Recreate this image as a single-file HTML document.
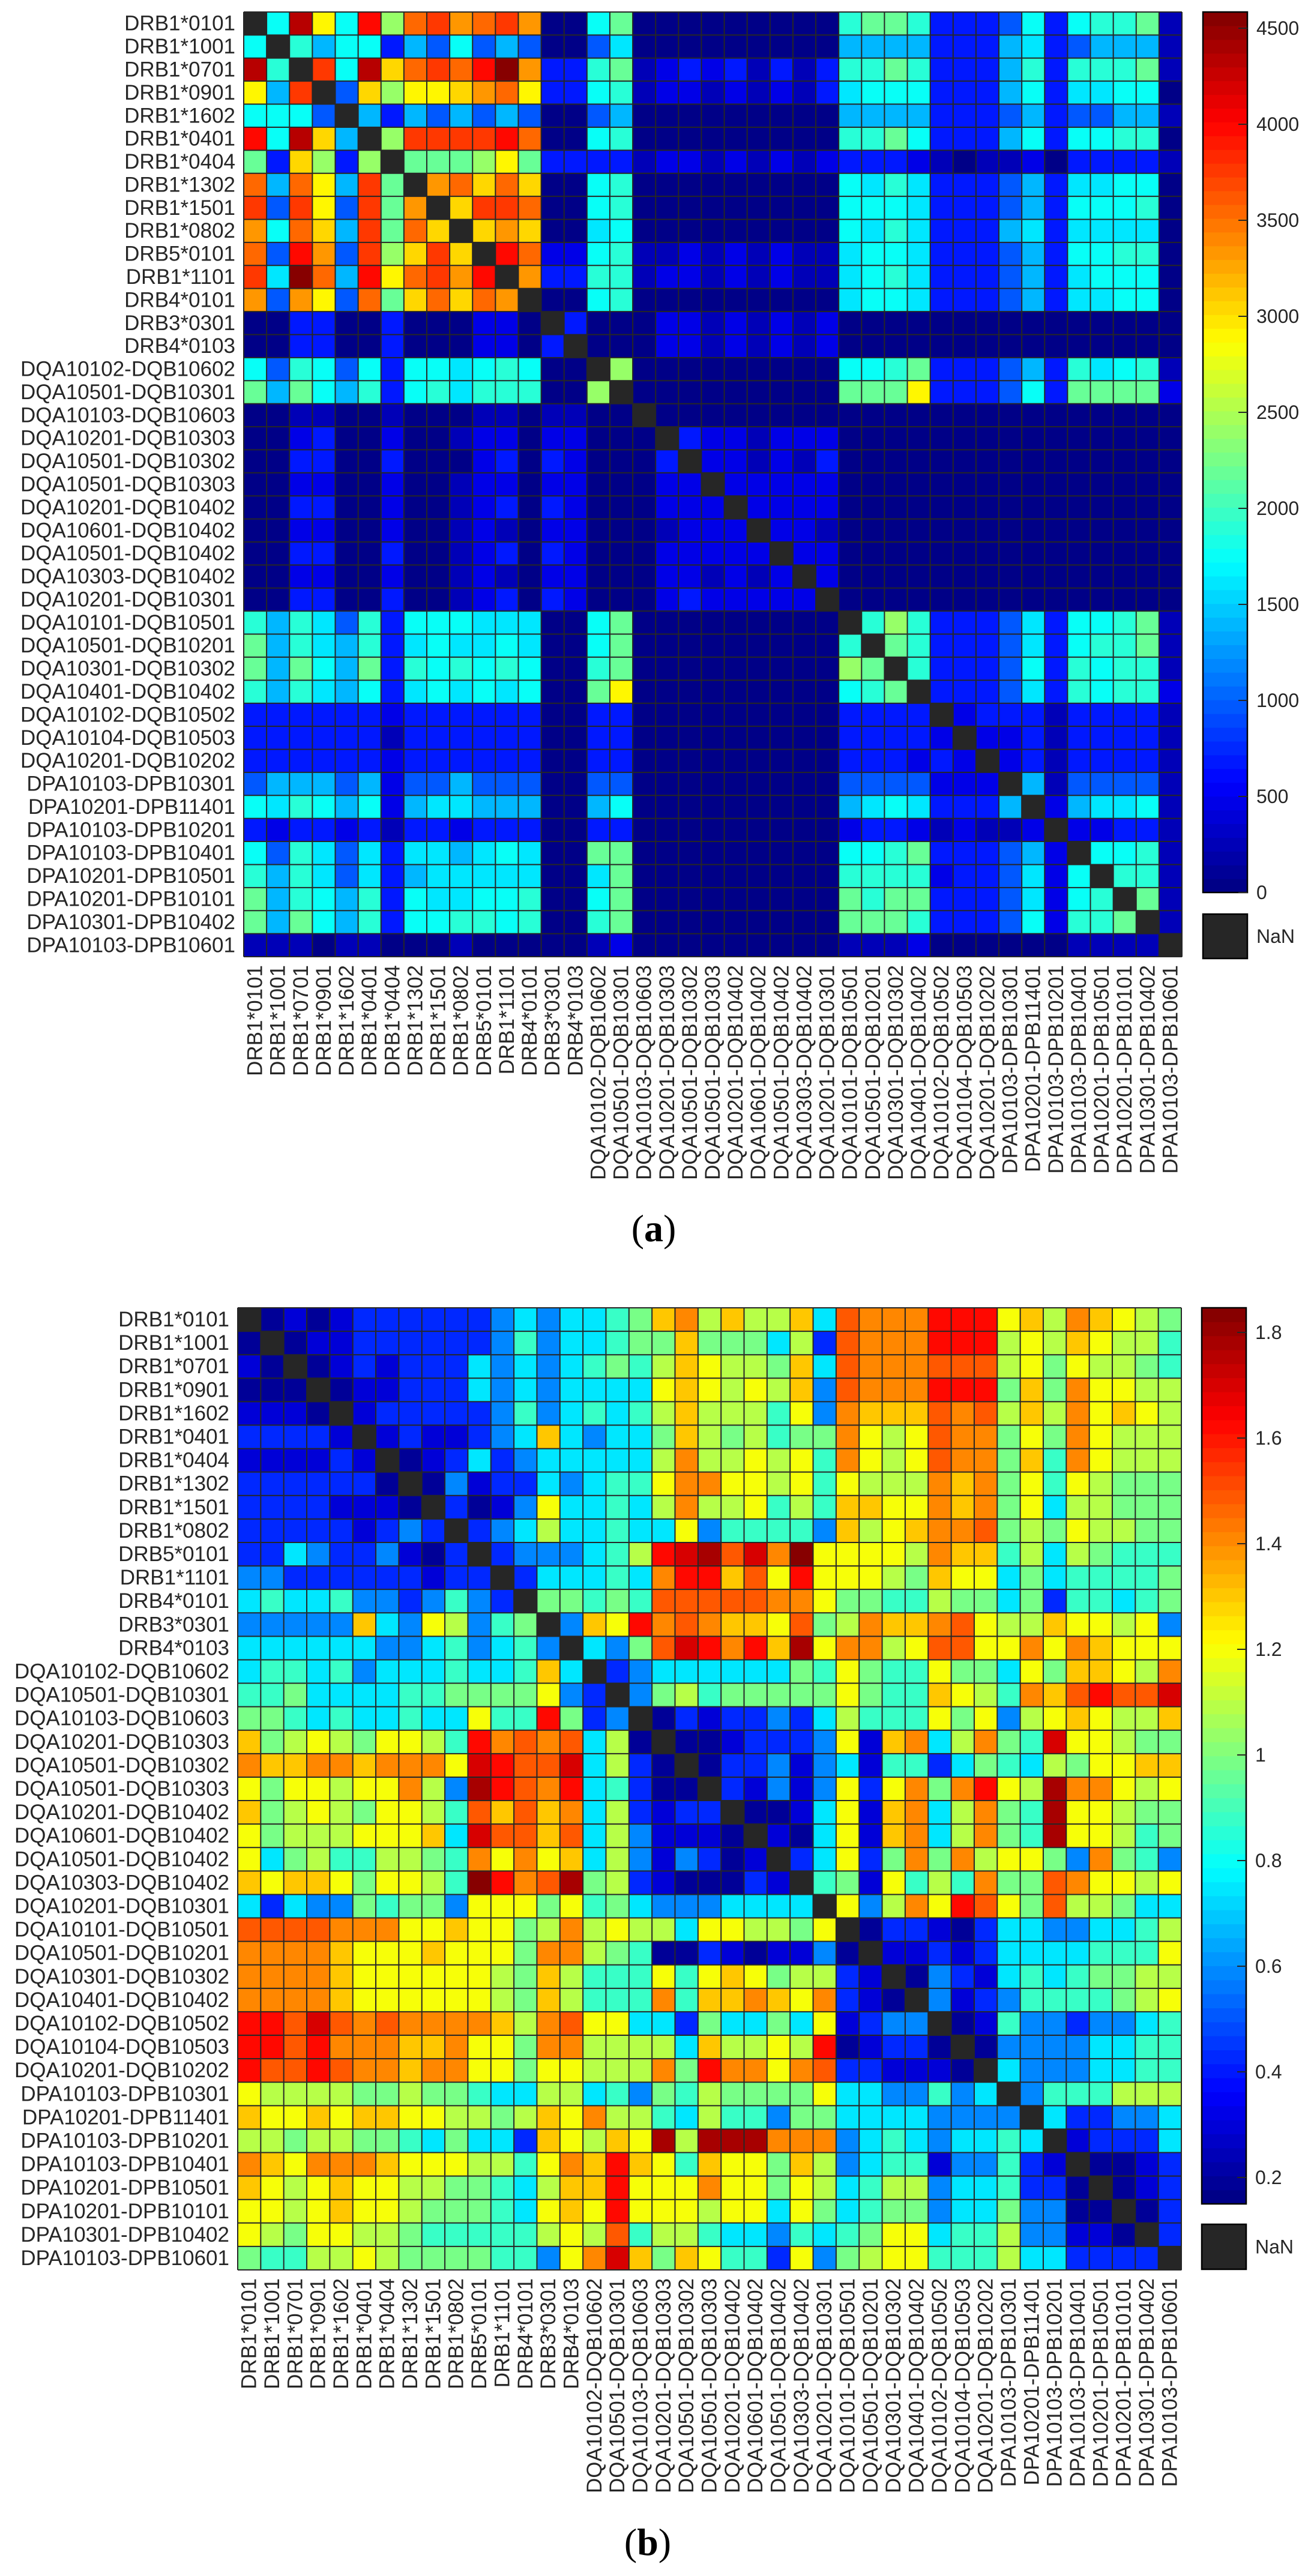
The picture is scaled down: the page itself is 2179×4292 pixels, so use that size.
<!DOCTYPE html>
<html><head><meta charset="utf-8"><style>
html,body{margin:0;padding:0;background:#fff;}
svg{display:block;}
text{font-family:"Liberation Sans",sans-serif;fill:#262626;}
</style></head><body>
<svg id="s" xmlns="http://www.w3.org/2000/svg" width="2179" height="4292" viewBox="0 0 2179 4292"></svg>
<script>
const L=["DRB1*0101","DRB1*1001","DRB1*0701","DRB1*0901","DRB1*1602","DRB1*0401","DRB1*0404","DRB1*1302","DRB1*1501","DRB1*0802","DRB5*0101","DRB1*1101","DRB4*0101","DRB3*0301","DRB4*0103","DQA10102-DQB10602","DQA10501-DQB10301","DQA10103-DQB10603","DQA10201-DQB10303","DQA10501-DQB10302","DQA10501-DQB10303","DQA10201-DQB10402","DQA10601-DQB10402","DQA10501-DQB10402","DQA10303-DQB10402","DQA10201-DQB10301","DQA10101-DQB10501","DQA10501-DQB10201","DQA10301-DQB10302","DQA10401-DQB10402","DQA10102-DQB10502","DQA10104-DQB10503","DQA10201-DQB10202","DPA10103-DPB10301","DPA10201-DPB11401","DPA10103-DPB10201","DPA10103-DPB10401","DPA10201-DPB10501","DPA10201-DPB10101","DPA10301-DPB10402","DPA10103-DPB10601"];
const A=[
"KCdyCRGOroOro nnCg nnnnnnnnn tggt BBBLC B Cttg e",
"CKtlCCBlLCLlL nnLc nnnnnnnnn llll BBBlc B Llll e",
"dtKrCdYOrORDo BBtg ebBbBeBeB ttgt BBBlt B tttg e",
"ylrKLYGyyYoOy BBCt ebbebebeB cCCC BBBlC B ccCC n",
"CCCLKlBlLlLlL nnLl nnnnnnnnn llll BBBLl B LLll e",
"RCdYlKGrrrrRO nnCt nnnnnnnnn ttgC BBBlC B CCtt n",
"gBYGBGKgggGyg BBBB ebbebebeb BBBb eneeb n BBBB e",
"OlOylrgKoOYOY nnCt nnnnnnnnn Cctc BBBLl B ccCC n",
"rLryLrgoKYrrO nnCt nnnnnnnnn CCCc BBBLl B CCCt n",
"oCOYlrgOYKYoY nncC nnnnnnnnn Cctc BBBlc B cccc n",
"OLRoLrGYrYKRO bbCt eebebebee cCCc BBBLl B CCtt n",
"rcDOlRyOroRKo BBtt ebbebebee cCtc BBBLl B cCCC n",
"oLoyLOgYOYOoK nnCt nnnnnnnnn cCCc BBBLl B ccCC n",
"nnBBnnBnnnbbn KB nn nbbebebeb nnnn nnnnn n nnnn n",
"nnBBnnBnnnbbn BK nn nbbebebeb nnnn nnnnn n nnnn n",
"CLtCLCBCCcCtC nn KG nnnnnnnnn CCtg BBBLl B tcCt e",
"glgCltBCtcttt nn GK nnnnnnnnn gggy BBBLC B gggg b",
"nneennennneen ee nn Knnnnnnnn nnnn nnnnn n nnnn n",
"nnbBnnbnnebbn bb nn nKBbbebbb nnnn nnnnn n nnnn n",
"nnBBnnBnnnbBn Bb nn nBKbbebeB nnnn nnnnn n nnnn n",
"nnbbnnbnnebbn bb nn nbbKbbbbb nnnn nnnnn n nnnn n",
"nnBBnnbnnebBn Bb nn nbbbKbbbb nnnn nnnnn n nnnn n",
"nnbbnnbnneben bb nn nebbbKbbe nnnn nnnnn n nnnn n",
"nnBBnnBnnebBn Bb nn nbbbbbKbb nnnn nnnnn n nnnn n",
"nnbbnnbnneben bb nn nbbebebKb nnnn nnnnn n nnnn n",
"nnBBnnBnnebBn Bb nn nbBbbbbbK nnnn nnnnn n nnnn n",
"tltcLtBCCCccc nn Cg nnnnnnnnn KtGt BBBLc B CCtg e",
"gltcltBcCccCc nn Cg nnnnnnnnn tKgt BBBLc B Cttg e",
"glgClgBtCtCtC nn tg nnnnnnnnn GgKt BBBLC B tCtt e",
"tltclCBcCcCcC nn gy nnnnnnnnn CtgK BBBLc B tCtt b",
"BBBBBBbBBBBBB nn BB nnnnnnnnn BBBB KbBBB e BBBB e",
"BBBBBBeBBBBBB nn BB nnnnnnnnn BBBB bKbbB e BBBB e",
"BBBBBBbBBBBBB nn BB nnnnnnnnn BBBb BbKbB e BBBB e",
"LlllLlbLLlLLL nn LL nnnnnnnnn LLLL bbbKl e LLLL e",
"CctClCblcclll nn lC nnnnnnnnn lcCc BBBlK b lccC e",
"BbBBbBeBBbBBB nn BB nnnnnnnnn bBBb ebeeb K bbBB e",
"CLtcLcBcclcCc nn gg nnnnnnnnn CCtg BBBLl b KCCt e",
"tltcLcBlccccc nn cg nnnnnnnnn tttt bBBLc b CKtt e",
"gltCltBCccCCt nn Cg nnnnnnnnn gtgg BBBLc b CtKg e",
"glgCltBCCttCt nn tg nnnnnnnnn gggt BBBLC b ttgK e",
"eeeneennnennn nn eb nnnnnnnnn eeeb nnnnn n eeee K"];
const AV={n:50,e:250,b:450,B:700,L:1000,l:1370,c:1600,C:1720,t:1920,g:2150,G:2430,y:2865,Y:3070,o:3300,O:3530,r:3760,R:4010,d:4300,D:4560};
const Bs=[
"K121233333 34545567oO 8o88o5rOOO RRR9o8Oo98 7",
"1K12233333 346455677o 777583rOOO RRR898o988 6",
"21K1232333 545456768o 9887o5rOOO rrr8979887 6",
"111K122333 545455559o 9898o4rOOO RRR7o7O998 8",
"2221K23333 346456568o 888694Oooo rOr8o8O9o9 8",
"33332K2322 345o54557o 878677O989 rOO797O988 8",
"222232K123 534555558O 889896O989 rOO7o6O988 8",
"3333331K14 233545669O O998969888 OoO7969877 7",
"33332221K3 124955658O 889686oo99 OoO7958877 7",
"333332343K 3458556559 466664o89o OOr7879887 7",
"3354334213 K3444568Rd DrdOX99998 Ooo6858766 6",
"4433333323 3K355565OR Ror9R99987 o995756666 7",
"5655644346 43K77676rr rrrOO97766 8775736656 7",
"44444o5498 467K4o9ROr Ooo9r78Ooo Or988o9989 4",
"5555554456 4564K547rd RORoD9OO89 rr99O9Oo99 9",
"5665645556 556o5K3455 5555769766 977597oo98 O",
"6675555667 777943K478 6777779766 o986OorRrr d",
"7765655655 966R734K13 2334358666 979489o988 o",
"o789879986 ROrOr581K1 12333492oO 58O76d9987 7",
"OooOOoOOO9 dRrrd5831K 1334245266 357658799o o",
"9799899O84 DRrOR56311 K32424939O 7OR98DOO98 9",
"o789879986 roroO58323 3K112592oO 58O76D9987 7",
"97888999o5 drror58422 21K21592oO 58O76D9986 7",
"9578668876 O9O9o58424 312K35937O 7O89974O76 4",
"o9oo979986 XROrD78321 1132K67296 86O77rO998 9",
"5354476774 9997967544 45555K948O 9Rr97r8875 5",
"rrrrOOO99o 9978O89885 998879K133 2135544556 8",
"OOOOo999o9 997OO87611 3212241K22 3235555666 9",
"OOOOo99999 987o866696 9o978832K1 4325656778 8",
"OOOOo99999 987o8666O6 ooOo9O321K 4234666678 9",
"RRrdrOrOOO Oo8Or99553 7557592344 K126443445 6",
"RRrROOOooO 997OO88885 o8898R1233 1K14444556 6",
"RrrRrOOoOO 99799888O7 ROO9Or3322 21K5444556 6",
"9888877877 6558856476 8777795544 645K466688 8",
"o99o9oo998 878o9O8865 8664775555 4444K53344 5",
"8878877657 553o98o9D8 DDDOOO4565 45565K2333 5",
"Oo9OOOo999 8869OoRo96 o997o84566 244632K112 3",
"o989o99887 7658ooR999 O997985688 4556331K12 3",
"9989o99877 7659o9R999 8995975677 45574411K1 3",
"9879988766 666898r688 6554656799 566844221K 3",
"7668898777 76649Odo7o 9663947899 6668553333 K"];
const BV={'1':0.2,'2':0.3,'3':0.42,'4':0.58,'5':0.75,'6':0.88,'7':0.98,'8':1.1,'9':1.2,'o':1.3,'O':1.4,'r':1.5,'R':1.62,'d':1.7,'D':1.78,'X':1.85};
function jet(t){t=Math.max(0,Math.min(1,t));const k=Math.min(63,Math.floor(t*64));t=(k+0.5)/64;
 const f=x=>Math.round(255*Math.max(0,Math.min(1,x)));
 return `rgb(${f(Math.min(4*t-1.5,-4*t+4.5))},${f(Math.min(4*t-0.5,-4*t+3.5))},${f(Math.min(4*t+0.5,-4*t+2.5))})`;}
let o='';
function panel(rows,map,vmin,vmax,gx,gy,gw,gh,cbx,cby,cbb,ticks,tickY,fmt,nanY0,nanY1,labx){
 const n=41,w=gw/n,h=gh/n;
 rows.forEach((s,i)=>{s=s.replace(/[ |]/g,'');for(let j=0;j<n;j++){const c=s[j]||'K';
  const fill=(c==='K')?'#262626':jet((map[c]-vmin)/(vmax-vmin));
  o+=`<rect x="${(gx+j*w).toFixed(2)}" y="${(gy+i*h).toFixed(2)}" width="${(w+0.6).toFixed(2)}" height="${(h+0.6).toFixed(2)}" fill="${fill}"/>`;}});
 for(let k=0;k<=n;k++){o+=`<line x1="${(gx+k*w).toFixed(2)}" y1="${gy}" x2="${(gx+k*w).toFixed(2)}" y2="${gy+gh}" stroke="#262626" stroke-width="2"/>`;
  o+=`<line x1="${gx}" y1="${(gy+k*h).toFixed(2)}" x2="${gx+gw}" y2="${(gy+k*h).toFixed(2)}" stroke="#262626" stroke-width="2"/>`;}
 for(let i=0;i<n;i++){o+=`<text x="${gx-14}" y="${(gy+(i+0.5)*h).toFixed(1)}" font-size="35" text-anchor="end" dominant-baseline="central">${L[i]}</text>`;
  const cx=(gx+(i+0.5)*w).toFixed(1),y0=gy+gh+14;
  o+=`<text transform="translate(${cx},${y0}) rotate(-90)" font-size="35" text-anchor="end" dominant-baseline="central">${L[i]}</text>`;}
 const cbw=74,H=cbb-cby,N=64;
 for(let k=0;k<N;k++){const y=cbb-(k+1)*H/N;o+=`<rect x="${cbx}" y="${y.toFixed(2)}" width="${cbw}" height="${(H/N+0.6).toFixed(2)}" fill="${jet((k+0.5)/N)}"/>`;}
 o+=`<rect x="${cbx}" y="${cby}" width="${cbw}" height="${H}" fill="none" stroke="#000" stroke-width="2.5"/>`;
 ticks.forEach(v=>{const y=tickY(v);o+=`<line x1="${cbx+cbw-15}" y1="${y}" x2="${cbx+cbw}" y2="${y}" stroke="#262626" stroke-width="2"/>`;
  o+=`<text x="${labx}" y="${y}" font-size="32" dominant-baseline="central">${fmt(v)}</text>`;});
 o+=`<rect x="${cbx}" y="${nanY0}" width="${cbw}" height="${nanY1-nanY0}" fill="#262626" stroke="#000" stroke-width="2.5"/>`;
 o+=`<text x="${labx}" y="${(nanY0+nanY1)/2}" font-size="32" dominant-baseline="central">NaN</text>`;
}
panel(A,AV,0,4584,406,20,1563,1574,2004,20,1487,[0,500,1000,1500,2000,2500,3000,3500,4000,4500],v=>1487-v*0.32,v=>String(v),1523,1597,2093);
panel(Bs,BV,0.15,1.85,396,2179,1572,1603,2002,2179,3672,[0.2,0.4,0.6,0.8,1,1.2,1.4,1.6,1.8],v=>3628-(v-0.2)*880,v=>String(Math.round(v*10)/10),3706,3781,2091);
o+=`<text x="1089" y="2068" font-size="64" text-anchor="middle" style="font-family:'Liberation Serif',serif;fill:#000">(<tspan font-weight="bold">a</tspan>)</text>`;
o+=`<text x="1079" y="4257" font-size="64" text-anchor="middle" style="font-family:'Liberation Serif',serif;fill:#000">(<tspan font-weight="bold">b</tspan>)</text>`;
document.getElementById('s').innerHTML=o;
</script>
</body></html>
